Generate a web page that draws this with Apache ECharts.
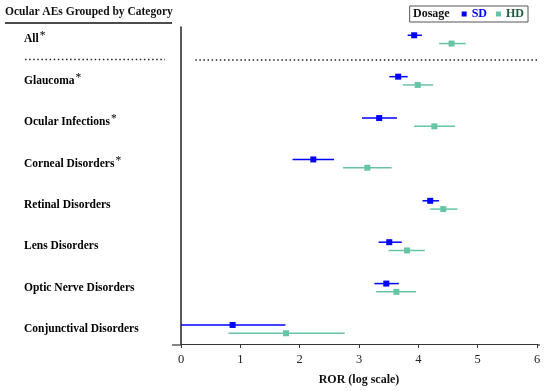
<!DOCTYPE html>
<html>
<head>
<meta charset="utf-8">
<script src="https://cdn.jsdelivr.net/npm/echarts@6/dist/echarts.min.js"></script>
<style>html,body{margin:0;padding:0;background:#fff}#c{width:550px;height:391px}</style>
</head>
<body>
<div id="c"></div>
<script>
const categories = ['All','Glaucoma','Ocular Infections','Corneal Disorders','Retinal Disorders','Lens Disorders','Optic Nerve Disorders','Conjunctival Disorders'];
const starred = [true,true,true,true,false,false,false,false];
const sdEst  = [3.93,3.66,3.34,2.23,4.20,3.51,3.46,0.87];
const sdLow  = [3.82,3.51,3.05,1.88,4.07,3.33,3.26,0.00];
const sdHigh = [4.06,3.82,3.64,2.58,4.35,3.72,3.67,1.76];
const hdEst  = [4.56,3.99,4.27,3.14,4.42,3.81,3.63,1.77];
const hdLow  = [4.35,3.74,3.93,2.73,4.20,3.50,3.29,0.80];
const hdHigh = [4.80,4.25,4.62,3.55,4.66,4.11,3.96,2.76];
const xTicks = [0,1,2,3,4,5,6];
const headerText = 'Ocular AEs Grouped by Category';
const legendTitle = 'Dosage';
const xName = 'ROR (log scale)';

const SERIF = '"Liberation Serif","DejaVu Serif",serif';
const SD_COLOR = '#0000ff';
const HD_COLOR = '#66c6a4';
const ROW_OFF = 0.1;

function barData(est, lo, hi, off) {
  return categories.map((c, i) => [est[i], i + off, lo[i], hi[i]]);
}

function errRender(color) {
  return function (params, api) {
    const y = api.value(1);
    const p = api.coord([api.value(0), y]);
    const a = api.coord([api.value(2), y]);
    const b = api.coord([api.value(3), y]);
    return {
      type: 'group',
      children: [
        { type: 'line', shape: { x1: a[0], y1: a[1], x2: b[0], y2: b[1] },
          style: { stroke: color, lineWidth: 1.5 } },
        { type: 'rect', shape: { x: p[0] - 3, y: p[1] - 3, width: 6, height: 6 },
          style: { fill: color } }
      ]
    };
  };
}

const chart = echarts.init(document.getElementById('c'), null, { renderer: 'canvas' });
chart.setOption({
  animation: false,
  backgroundColor: '#fff',
  grid: { left: 181, right: 13, top: 27, bottom: 46 },
  xAxis: {
    type: 'value', position: 'bottom', min: xTicks[0], max: xTicks[xTicks.length - 1], interval: 1,
    splitLine: { show: false },
    axisLine: { show: true, onZero: false, lineStyle: { color: '#333', width: 1.2 } },
    axisTick: { show: true, length: 4, lineStyle: { color: '#333' } },
    axisLabel: { fontFamily: SERIF, fontSize: 12.5, color: '#222', margin: 9 },
    name: xName, nameLocation: 'middle', nameGap: 30,
    nameTextStyle: { fontFamily: SERIF, fontSize: 12, fontWeight: 'bold', color: '#111' }
  },
  yAxis: {
    type: 'value', min: -0.3, max: 7.36, inverse: true,
    splitLine: { show: false },
    axisLine: { show: true, onZero: false, lineStyle: { color: '#222', width: 1.5 } },
    axisTick: { show: false },
    axisLabel: { show: false }
  },
  legend: {
    right: 22, top: 6,
    padding: [2, 4, 2, 52],
    itemGap: 9, itemWidth: 5, itemHeight: 5,
    icon: 'rect',
    borderColor: '#555', borderWidth: 1,
    textStyle: { fontFamily: SERIF, fontSize: 12, fontWeight: 'bold' },
    data: [
      { name: 'SD', textStyle: { color: SD_COLOR } },
      { name: 'HD', textStyle: { color: '#1e5a3c' } }
    ]
  },
  graphic: [
    { type: 'text', left: 5, top: 6, z: 100,
      style: { text: headerText, font: 'bold 11.5px ' + SERIF, fill: '#111' } },
    { type: 'line', z: 100, shape: { x1: 5, y1: 23, x2: 172, y2: 23 },
      style: { stroke: '#111', lineWidth: 1.5 } },
    { type: 'line', z: 100, shape: { x1: 25, y1: 59.5, x2: 165, y2: 59.5 },
      style: { stroke: '#222', lineWidth: 1.5, lineDash: [1.5, 2.6] } },
    { type: 'line', z: 100, shape: { x1: 172, y1: 345, x2: 181, y2: 345 },
      style: { stroke: '#333', lineWidth: 1.2 } },
    { type: 'line', z: 100, shape: { x1: 537, y1: 345, x2: 540, y2: 345 },
      style: { stroke: '#333', lineWidth: 1.2 } },
    { type: 'text', left: 413, top: 8, z: 100,
      style: { text: legendTitle, font: 'bold 12px ' + SERIF, fill: '#111' } }
  ],
  series: [
    {
      name: 'labels', type: 'custom', silent: true, clip: false,
      data: categories.map((c, i) => [0, i]),
      renderItem: function (params, api) {
        const i = params.dataIndex;
        const p = api.coord([0, api.value(1)]);
        return {
          type: 'text', x: 24, y: p[1],
          style: {
            text: '{b|' + categories[i] + '}' + (starred[i] ? '{s|*}' : ''),
            verticalAlign: 'middle', align: 'left',
            rich: {
              b: { fontFamily: SERIF, fontSize: 11.5, fontWeight: 'bold', color: '#111' },
              s: { fontFamily: SERIF, fontSize: 11.5, color: '#111', verticalAlign: 'top', padding: [0, 0, 6, 1] }
            }
          }
        };
      },
      markLine: {
        silent: true, symbol: 'none', label: { show: false },
        lineStyle: { color: '#222', width: 1.5, type: [1.5, 2.6] },
        data: [[{ coord: [0.24, 0.5] }, { coord: [6, 0.5] }]]
      }
    },
    {
      name: 'SD', type: 'custom', itemStyle: { color: SD_COLOR },
      data: barData(sdEst, sdLow, sdHigh, -ROW_OFF),
      renderItem: errRender(SD_COLOR)
    },
    {
      name: 'HD', type: 'custom', itemStyle: { color: HD_COLOR },
      data: barData(hdEst, hdLow, hdHigh, ROW_OFF),
      renderItem: errRender(HD_COLOR)
    }
  ]
});
</script>
</body>
</html>
